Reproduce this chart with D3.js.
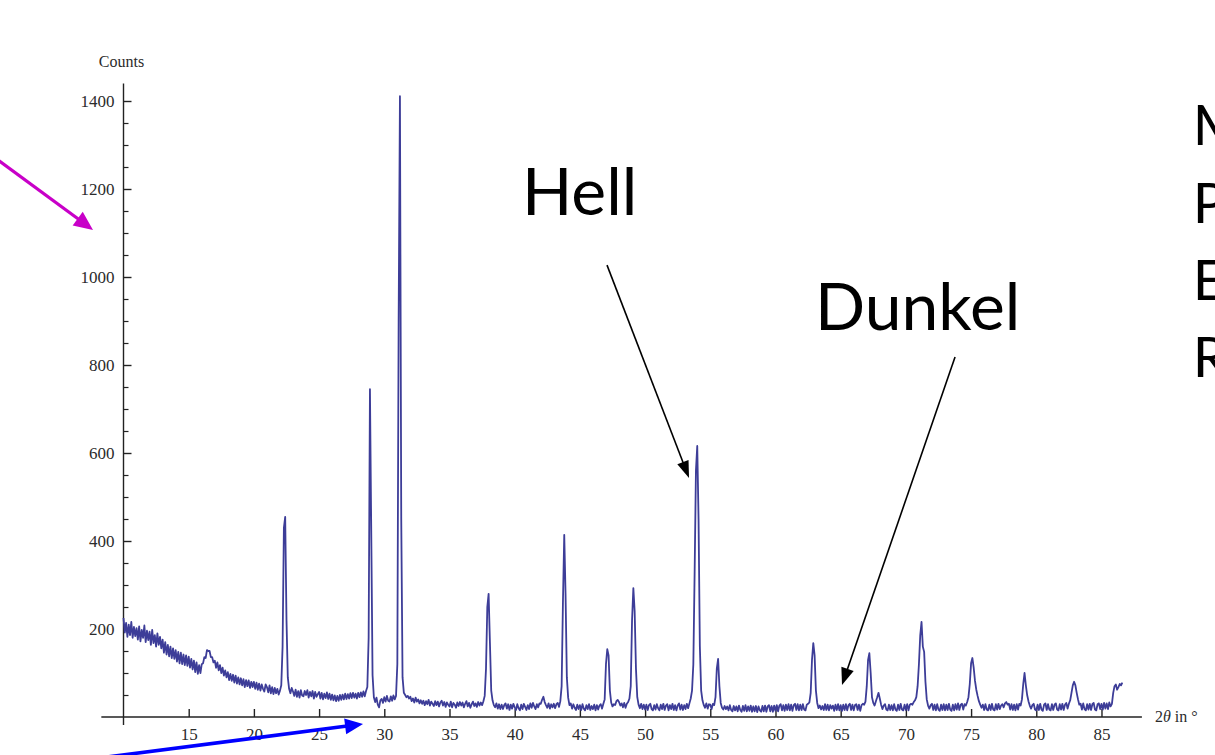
<!DOCTYPE html>
<html>
<head>
<meta charset="utf-8">
<title>XRD pattern</title>
<script src="https://cdn.jsdelivr.net/npm/d3@7"></script>
<style>
    body { margin: 0; background: #fff; }
    svg { display: block; background: #fff; }
    .tick text, .axis-title {
        font-family: "Liberation Serif", "Times New Roman", serif;
        font-size: 17px;
        fill: #2b2b2b;
    }
    .note {
        font-family: Lato, "Open Sans", sans-serif;
        fill: #000;
    }
</style>
</head>
<body>
<svg width="1215" height="755"></svg>
<script>

    const scanStarts = [10, 30, 50, 70]
    const scanA = [
        225, 192, 214, 182, 210, 186, 216, 180, 205, 184,
        202, 176, 206, 172, 198, 180, 208, 170, 196, 175,
        194, 164, 198, 168, 186, 160, 190, 164, 182, 156,
        176, 146, 170, 142, 164, 138, 160, 134, 156, 132,
        152, 126, 148, 122, 146, 120, 142, 118, 140, 116,
        137, 112, 132, 108, 128, 102, 124, 98, 118, 100,
        120, 122, 136, 134, 152, 150, 150, 136, 136, 124,
        128, 112, 124, 106, 118, 100, 112, 94, 106, 90,
        102, 84, 98, 82, 96, 78, 94, 76, 90, 74,
        88, 72, 86, 68, 84, 70, 83, 66, 80, 68,
        80, 64, 78, 62, 76, 60, 74, 64, 58, 74,
        68, 56, 72, 54, 68, 52, 66, 54, 64, 51,
        60, 72, 160, 430, 455, 220, 90, 64, 54, 66,
        58, 48, 62, 46, 59, 44, 61, 49, 47, 59,
        50, 61, 44, 57, 47, 59, 42, 57, 46, 52,
        57, 42, 55, 40, 53, 43, 56, 41, 53, 39,
        51, 38, 49, 36, 48, 37, 50, 39, 51, 40,
        53, 41, 52, 42, 54, 43, 55, 44, 53, 42,
        55, 45, 56, 46, 58, 47, 59, 68, 180, 745,
        420, 95, 45, 34, 44, 28, 22, 38, 41, 32
    ]
    const scanB = [
        45, 35, 48, 37, 35, 47, 37, 49, 40, 48,
        120, 900, 1411, 450, 90, 55, 50, 45, 48, 42,
        46, 36, 42, 33, 44, 35, 40, 31, 38, 30,
        37, 27, 36, 29, 39, 26, 35, 30, 25, 36,
        27, 35, 24, 33, 37, 26, 34, 23, 33, 28,
        24, 35, 22, 32, 28, 21, 33, 25, 34, 26,
        33, 22, 30, 36, 24, 32, 21, 29, 35, 25,
        31, 23, 34, 26, 33, 27, 36, 48, 110, 250,
        280, 170, 60, 38, 27, 22, 31, 19, 29, 18,
        28, 18, 27, 31, 19, 29, 16, 28, 19, 30,
        22, 16, 29, 20, 15, 28, 18, 30, 23, 16,
        27, 18, 31, 21, 32, 24, 18, 29, 22, 31,
        30, 39, 46, 34, 27, 21, 31, 19, 29, 22,
        30, 20, 29, 32, 23, 36, 70, 260, 414, 280,
        90, 44, 27, 31, 19, 29, 21, 16, 28, 18,
        27, 16, 29, 19, 15, 27, 18, 29, 16, 25,
        18, 28, 15, 27, 17, 26, 29, 19, 30, 40,
        120, 154, 140, 60, 33, 24, 29, 27, 36, 39,
        34, 26, 31, 22, 32, 21, 30, 34, 42, 70,
        220, 293, 240, 110, 45, 28, 20, 30, 18, 28
    ]
    const scanC = [
        17, 28, 16, 27, 30, 18, 15, 27, 17, 29,
        20, 15, 28, 18, 30, 16, 26, 29, 15, 27,
        18, 30, 16, 27, 15, 26, 31, 17, 28, 16,
        27, 18, 30, 20, 31, 42, 60, 120, 330, 560,
        616, 450, 160, 60, 38, 27, 21, 31, 19, 29,
        28, 18, 30, 27, 45, 110, 132, 70, 32, 21,
        17, 25, 18, 24, 15, 27, 16, 13, 25, 15,
        24, 13, 26, 16, 12, 25, 14, 27, 13, 24,
        14, 26, 12, 24, 13, 25, 11, 24, 15, 12,
        25, 13, 26, 12, 24, 27, 13, 25, 12, 26,
        14, 27, 13, 26, 29, 15, 27, 14, 28, 16,
        29, 15, 28, 14, 27, 30, 16, 29, 15, 28,
        16, 29, 17, 15, 28, 30, 33, 55, 130, 168,
        140, 60, 32, 20, 26, 17, 25, 16, 29, 16,
        28, 15, 27, 19, 26, 14, 28, 16, 29, 15,
        27, 14, 28, 16, 29, 15, 27, 30, 16, 28,
        15, 27, 29, 16, 28, 14, 27, 30, 28, 35,
        70, 130, 145, 100, 45, 32, 26, 36, 45, 55,
        42, 28, 18, 26, 29, 17, 15, 28, 16, 27,
        15, 29, 17, 14, 28, 16, 30, 17, 15, 28
    ]
    const scanD = [
        16, 29, 15, 28, 30, 28, 34, 38, 45, 70,
        120, 185, 216, 160, 148, 80, 40, 26, 19, 27,
        30, 16, 28, 15, 29, 17, 14, 28, 16, 29,
        15, 28, 16, 30, 17, 14, 28, 15, 29, 17,
        31, 16, 28, 30, 17, 29, 26, 34, 45, 75,
        122, 134, 112, 82, 62, 48, 36, 28, 21, 28,
        16, 29, 17, 15, 28, 16, 30, 17, 15, 29,
        17, 30, 18, 26, 29, 22, 31, 34, 28, 30,
        17, 29, 16, 28, 15, 29, 17, 30, 26, 40,
        75, 100, 72, 50, 36, 26, 19, 27, 30, 17,
        15, 28, 16, 30, 17, 14, 28, 31, 16, 29,
        17, 15, 29, 16, 28, 31, 17, 15, 29, 17,
        30, 16, 28, 32, 19, 30, 38, 55, 72, 80,
        72, 55, 40, 28, 30, 17, 31, 18, 15, 29,
        17, 30, 16, 29, 32, 17, 15, 29, 31, 18,
        30, 17, 32, 19, 31, 18, 33, 24, 30, 55,
        70, 74, 62, 68, 75, 72, 78
    ]
    const angleStep = 0.1

    // axis ticks
    const xTickValues = [15, 20, 25, 30, 35, 40, 45, 50, 55, 60, 65, 70, 75, 80, 85]
    const yTickValues = [200, 400, 600, 800, 1000, 1200, 1400]
    const yMinorValues = d3.range(50, 1401, 50).filter(v => v % 200 !== 0)

    // slide annotations (in chart units)
    const labels = [
        {text: "Hell",   at: [40.56, 1141], size: 66},
        {text: "Dunkel", at: [63.03, 880],  size: 66},
        {text: "M", at: [92.0, 1300], size: 56},
        {text: "P", at: [92.0, 1123], size: 56},
        {text: "E", at: [92.0, 948],  size: 56},
        {text: "R", at: [92.0, 773],  size: 56}
    ]
    const arrows = [
        {from: [0.38, 1266], to: [7.66, 1107], color: "#c800c8", width: 3.2, head: [19, 17]},
        {from: [8.2, -93],   to: [28.37, -16], color: "#0000ff", width: 3.6, head: [18, 16]},
        {from: [47.08, 1027], to: [53.37, 543], color: "#000", width: 1.6, head: [17, 12]},
        {from: [73.77, 818],  to: [65.1, 73],   color: "#000", width: 1.6, head: [17, 13]}
    ]

    //*****************************
    // build points
    const points = [scanA, scanB, scanC, scanD].flatMap((scan, k) =>
        scan.map((c, i) => [scanStarts[k] + i * angleStep, c]))

    const svg = d3.select("svg")

    const x = d3.scaleLinear().domain([10, 88]).range([123.5, 1140.6])
    const y = d3.scaleLinear().domain([0, 1400]).range([717, 101])

    //*****************************
    // axes lines
    svg.append("line")
        .attr("x1", x(8.3)).attr("x2", x(88.1))
        .attr("y1", y(0)).attr("y2", y(0))
        .attr("stroke", "#222").attr("stroke-width", 1.4)
    svg.append("line")
        .attr("x1", x(10)).attr("x2", x(10))
        .attr("y1", y(-18)).attr("y2", y(1440))
        .attr("stroke", "#222").attr("stroke-width", 1.4)

    // x ticks (pointing up into the plot)
    const xAxis = svg.append("g")
        .attr("transform", `translate(0,${y(0)})`)
        .call(d3.axisBottom(x).tickValues(xTickValues).tickSize(-8).tickPadding(11))
    xAxis.select(".domain").remove()
    xAxis.selectAll(".tick line").attr("stroke", "#222").attr("stroke-width", 1.4)

    // y ticks (pointing right)
    const yAxis = svg.append("g")
        .attr("transform", `translate(${x(10)},0)`)
        .call(d3.axisLeft(y).tickValues(yTickValues).tickFormat(d3.format("d"))
            .tickSize(-8).tickPadding(9))
    yAxis.select(".domain").remove()
    yAxis.selectAll(".tick line").attr("stroke", "#222").attr("stroke-width", 1.4)

    const yMinor = svg.append("g")
        .attr("transform", `translate(${x(10)},0)`)
        .call(d3.axisLeft(y).tickValues(yMinorValues).tickSize(-5).tickFormat(""))
    yMinor.select(".domain").remove()
    yMinor.selectAll(".tick line").attr("stroke", "#222").attr("stroke-width", 1.2)

    svg.selectAll(".tick text").attr("font-family", null).attr("font-size", null)

    // axis titles
    svg.append("text").attr("class", "axis-title")
        .attr("x", x(10) - 2).attr("y", 67)
        .attr("text-anchor", "middle")
        .style("font-size", "16px")
        .text("Counts")

    const xt = svg.append("text").attr("class", "axis-title")
        .attr("x", 1155).attr("y", y(0) + 5)
        .style("font-size", "16px")
    xt.append("tspan").text("2")
    xt.append("tspan").attr("font-style", "italic").text("θ")
    xt.append("tspan").text(" in °")

    //*****************************
    // scan curve
    const line = d3.line().x(d => x(d[0])).y(d => y(d[1]))
    svg.append("path")
        .datum(points)
        .attr("d", line)
        .attr("fill", "none")
        .attr("stroke", "#3d3d98")
        .attr("stroke-width", 1.8)
        .attr("stroke-linejoin", "round")

    //*****************************
    // annotations
    svg.selectAll("text.note")
        .data(labels)
        .enter()
        .append("text")
        .attr("class", "note")
        .attr("x", d => x(d.at[0]))
        .attr("y", d => y(d.at[1]))
        .style("font-size", d => d.size + "px")
        .text(d => d.text)

    arrows.forEach(a => {
        const x1 = x(a.from[0]), y1 = y(a.from[1])
        const x2 = x(a.to[0]), y2 = y(a.to[1])
        const ang = Math.atan2(y2 - y1, x2 - x1)
        const c = Math.cos(ang), s = Math.sin(ang)
        const L = a.head[0], W = a.head[1] / 2
        const bx = x2 - L * c, by = y2 - L * s
        svg.append("line")
            .attr("x1", x1).attr("y1", y1)
            .attr("x2", bx + 2 * c).attr("y2", by + 2 * s)
            .attr("stroke", a.color).attr("stroke-width", a.width)
        svg.append("path")
            .attr("d", `M${x2},${y2}L${bx - W * s},${by + W * c}L${bx + W * s},${by - W * c}Z`)
            .attr("fill", a.color)
    })
</script>
</body>
</html>
